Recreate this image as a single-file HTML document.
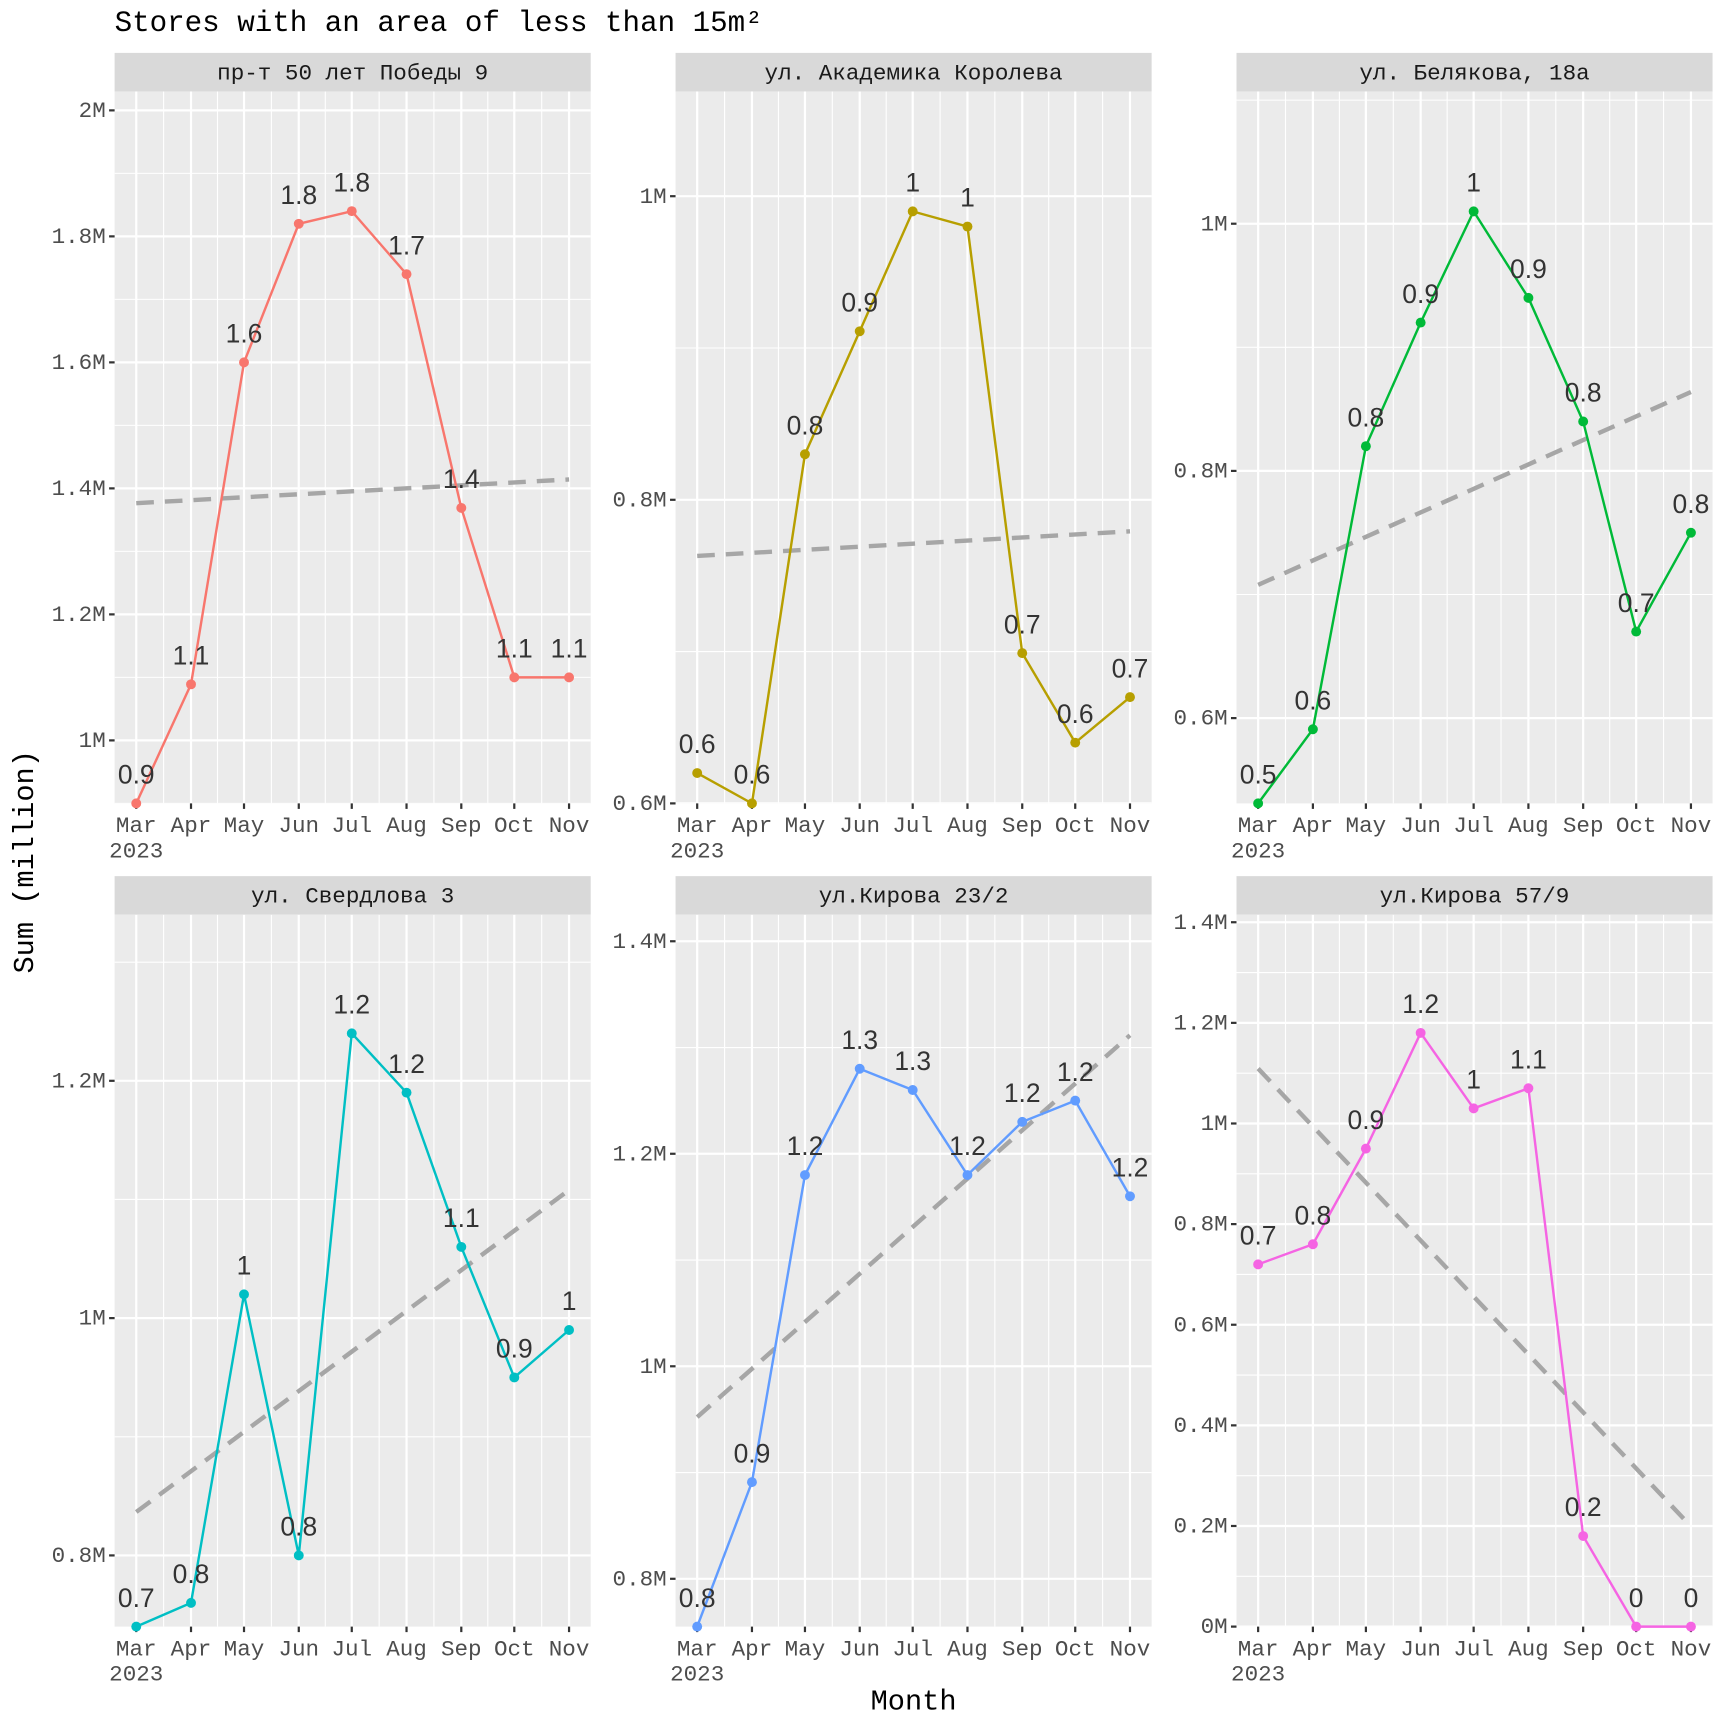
<!DOCTYPE html>
<html><head><meta charset="utf-8"><style>
html,body{margin:0;padding:0;background:#fff;overflow:hidden;width:1728px;height:1728px;}
svg{display:block;}
</style></head><body>
<svg id="chart" width="1728" height="1728" viewBox="0 0 1568 1568" xmlns="http://www.w3.org/2000/svg">
<text x="104" y="28" font-family="Liberation Mono, monospace" font-size="26.5" fill="#000">Stores with an area of less than 15m²</text>
<text x="829" y="1551" text-anchor="middle" font-family="Liberation Mono, monospace" font-size="26" fill="#000">Month</text>
<text transform="translate(30,782) rotate(-90)" text-anchor="middle" font-family="Liberation Mono, monospace" font-size="26" fill="#000">Sum (million)</text>
<g id="panels"></g>
</svg>
<script>
const months = ["Mar","Apr","May","Jun","Jul","Aug","Sep","Oct","Nov"];
const monthDays = [0,31,61,92,122,153,184,214,245];
const panelTitles = ["пр-т 50 лет Победы 9","ул. Академика Королева","ул. Белякова, 18а","ул. Свердлова 3","ул.Кирова 23/2","ул.Кирова 57/9"];
const seriesColors = ["#F8766D","#B79F00","#00BA38","#00BFC4","#619CFF","#F564E3"];
const values1 = [0.9,1.089,1.6,1.82,1.84,1.74,1.369,1.1,1.1];
const values2 = [0.62,0.6,0.83,0.911,0.99,0.98,0.699,0.64,0.67];
const values3 = [0.531,0.591,0.82,0.92,1.01,0.94,0.84,0.67,0.75];
const values4 = [0.74,0.76,1.02,0.8,1.24,1.19,1.06,0.95,0.99];
const values5 = [0.755,0.891,1.18,1.28,1.26,1.18,1.23,1.25,1.16];
const values6 = [0.72,0.76,0.95,1.18,1.03,1.07,0.18,0,0];
const labels1 = ["0.9","1.1","1.6","1.8","1.8","1.7","1.4","1.1","1.1"];
const labels2 = ["0.6","0.6","0.8","0.9","1","1","0.7","0.6","0.7"];
const labels3 = ["0.5","0.6","0.8","0.9","1","0.9","0.8","0.7","0.8"];
const labels4 = ["0.7","0.8","1","0.8","1.2","1.2","1.1","0.9","1"];
const labels5 = ["0.8","0.9","1.2","1.3","1.3","1.2","1.2","1.2","1.2"];
const labels6 = ["0.7","0.8","0.9","1.2","1","1.1","0.2","0","0"];
const yDomainMin = [0.9,0.6,0.531,0.74,0.755,0];
const yDomainMax = [2.03,1.069,1.107,1.34,1.425,1.415];
const yTicks1 = [1,1.2,1.4,1.6,1.8,2];
const yTicks2 = [0.6,0.8,1];
const yTicks3 = [0.6,0.8,1];
const yTicks4 = [0.8,1,1.2];
const yTicks5 = [0.8,1,1.2,1.4];
const yTicks6 = [0,0.2,0.4,0.6,0.8,1,1.2,1.4];
const tickLabels1 = ["1M","1.2M","1.4M","1.6M","1.8M","2M"];
const tickLabels2 = ["0.6M","0.8M","1M"];
const tickLabels3 = ["0.6M","0.8M","1M"];
const tickLabels4 = ["0.8M","1M","1.2M"];
const tickLabels5 = ["0.8M","1M","1.2M","1.4M"];
const tickLabels6 = ["0M","0.2M","0.4M","0.6M","0.8M","1M","1.2M","1.4M"];

const allValues=[values1,values2,values3,values4,values5,values6];
const allLabels=[labels1,labels2,labels3,labels4,labels5,labels6];
const allTicks=[yTicks1,yTicks2,yTicks3,yTicks4,yTicks5,yTicks6];
const allTickLabels=[tickLabels1,tickLabels2,tickLabels3,tickLabels4,tickLabels5,tickLabels6];

const NS="http://www.w3.org/2000/svg";
const root=document.getElementById('panels');
function mk(tag,attrs,parent){const e=document.createElementNS(NS,tag);for(const k in attrs)e.setAttribute(k,attrs[k]);(parent||root).appendChild(e);return e;}
const colX=[104,613,1122], rowY=[48,795], PW=432, STRIP=35, PH=646;
const fonts="Liberation Mono, monospace";
for(let p=0;p<6;p++){
  const x0=colX[p%3], top=rowY[Math.floor(p/3)], y0=top+STRIP, y1=y0+PH;
  const g=mk('g',{});
  
  
  const dMin=-0.05*245, dMax=245*1.05;
  const xs=d=>x0+(d-dMin)/(dMax-dMin)*PW;
  const lo=yDomainMin[p], hi=yDomainMax[p];
  const ys=v=>y1-(v-lo)/(hi-lo)*PH;
  const strip=mk('rect',{x:x0,y:top,width:PW,height:STRIP,fill:'#d9d9d9'},g);
  
  
  const st=mk('text',{x:x0+PW/2,y:top+24,'text-anchor':'middle','font-family':fonts+', "Noto Sans CJK SC"','font-size':20.5,fill:'#1a1a1a'},g);
  st.textContent=panelTitles[p];
  
  
  const bg=mk('rect',{x:x0,y:y0,width:PW,height:PH,fill:'#ebebeb'},g);
  
  
  const clip=mk('clipPath',{id:'c'+p},g);mk('rect',{x:x0,y:y0,width:PW,height:PH},clip);
  const grid=mk('g',{'clip-path':'url(#c'+p+')'},g);
  for(let i=0;i<months.length-1;i++){const d=(monthDays[i]+monthDays[i+1])/2;mk('line',{x1:xs(d),x2:xs(d),y1:y0,y2:y1,stroke:'#fff','stroke-width':1},grid);}
  mk('line',{x1:xs(-15),x2:xs(-15),y1:y0,y2:y1,stroke:'#fff','stroke-width':1},grid);
  mk('line',{x1:xs(260),x2:xs(260),y1:y0,y2:y1,stroke:'#fff','stroke-width':1},grid);
  const tk=allTicks[p], step=tk[1]-tk[0];
  for(let v=tk[0]-step*4+step/2;v<hi+step;v+=step){mk('line',{x1:x0,x2:x0+PW,y1:ys(v),y2:ys(v),stroke:'#fff','stroke-width':1},grid);}
  for(let i=0;i<months.length;i++){const x=xs(monthDays[i]);
    mk('line',{x1:x,x2:x,y1:y0,y2:y1,stroke:'#fff','stroke-width':2},grid);
    mk('line',{x1:x,x2:x,y1:y1,y2:y1+5,stroke:'#333','stroke-width':2},g);
    const t=mk('text',{x:x,y:y1+26,'text-anchor':'middle','font-family':fonts,'font-size':20.5,fill:'#4d4d4d'},g);
    t.textContent=months[i];
    
    
  }
  const yr=mk('text',{x:xs(0),y:y1+49,'text-anchor':'middle','font-family':fonts,'font-size':20.5,fill:'#4d4d4d'},g);yr.textContent='2023';
  
  
  for(let i=0;i<tk.length;i++){const y=ys(tk[i]);
    mk('line',{x1:x0,x2:x0+PW,y1:y,y2:y,stroke:'#fff','stroke-width':2},grid);
    mk('line',{x1:x0-5,x2:x0,y1:y,y2:y,stroke:'#333','stroke-width':2},g);
    const t=mk('text',{x:x0-8,y:y+6,'text-anchor':'end','font-family':fonts,'font-size':20.5,fill:'#4d4d4d'},g);
    t.textContent=allTickLabels[p][i];
    
    
  }
  const vals=allValues[p];
  const n=vals.length;let mx=0,my=0;for(let i=0;i<n;i++){mx+=monthDays[i];my+=vals[i];}mx/=n;my/=n;
  let sxy=0,sxx=0;for(let i=0;i<n;i++){sxy+=(monthDays[i]-mx)*(vals[i]-my);sxx+=(monthDays[i]-mx)**2;}
  const b=sxy/sxx,a=my-b*mx;
  const tr=mk('line',{x1:xs(0),y1:ys(a),x2:xs(245),y2:ys(a+b*245),stroke:'#a6a6a6','stroke-width':4,'stroke-dasharray':'16,10','clip-path':'url(#c'+p+')'},g);
  
  
  const pts=vals.map((v,i)=>xs(monthDays[i])+','+ys(v)).join(' ');
  const pl=mk('polyline',{points:pts,fill:'none',stroke:seriesColors[p],'stroke-width':2.2},g);
  
  
  for(let i=0;i<n;i++){
    const c=mk('circle',{cx:xs(monthDays[i]),cy:ys(vals[i]),r:4.5,fill:seriesColors[p]},g);
    
    
    const t=mk('text',{x:xs(monthDays[i]),y:ys(vals[i])-18,'text-anchor':'middle','font-family':'Liberation Sans, sans-serif','font-size':24,fill:'#333'},g);
    t.textContent=allLabels[p][i];
    
    
  }
}
</script>
</body></html>
